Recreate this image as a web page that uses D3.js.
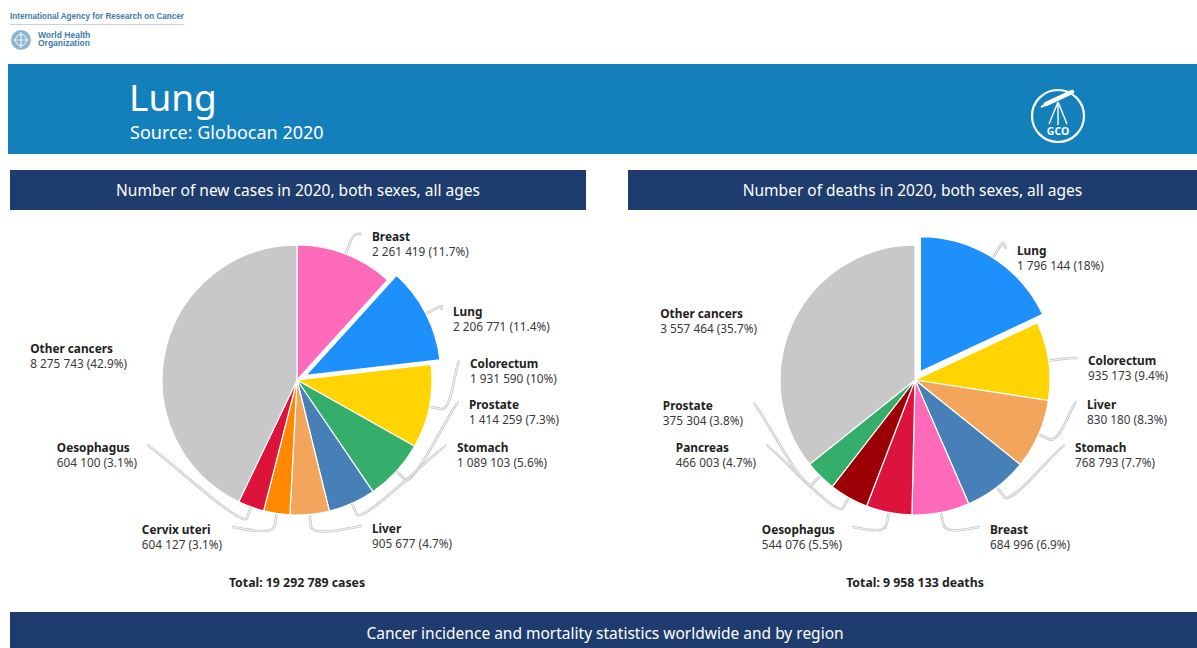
<!DOCTYPE html>
<html>
<head>
<meta charset="utf-8">
<script src="https://cdn.jsdelivr.net/npm/d3@7"></script>
<style>
html,body{margin:0;padding:0;background:#fff;}
svg{display:block;font-family:"Noto Sans","Open Sans",sans-serif;}
</style>
</head>
<body>
<svg id="chart" width="1197" height="648"></svg>
<script>
// ---------------- DATA ----------------
const incidenceCategories = ["Breast","Lung","Colorectum","Prostate","Stomach","Liver","Cervix uteri","Oesophagus","Other cancers"];
const incidenceValues = [2261419,2206771,1931590,1414259,1089103,905677,604127,604100,8275743];
const mortalityCategories = ["Lung","Colorectum","Liver","Stomach","Breast","Oesophagus","Pancreas","Prostate","Other cancers"];
const mortalityValues = [1796144,935173,830180,768793,684996,544076,466003,375304,3557464];
const highlightedCancer = "Lung";
const titleText = "Lung";
const sourceText = "Source: Globocan 2020";
const incidenceTitle = "Number of new cases in 2020, both sexes, all ages";
const mortalityTitle = "Number of deaths in 2020, both sexes, all ages";
const incidenceUnit = "cases";
const mortalityUnit = "deaths";
const footerText = "Cancer incidence and mortality statistics worldwide and by region";

// ---------------- STYLE / LAYOUT ----------------
const cancerColors = {
  "Breast":"#fd6ab9", "Lung":"#1e90fb", "Colorectum":"#ffd400", "Prostate":"#35ad6b",
  "Stomach":"#4680b6", "Liver":"#f3a55c", "Cervix uteri":"#ff8800", "Oesophagus":"#dc143c",
  "Pancreas":"#9c0006", "Other cancers":"#c8c8c8"
};
// label block offsets from pie centre: [x of text edge, y of first line centre]
const incidenceLabelLayout = {
  "Breast":[75,-144], "Lung":[156,-69], "Colorectum":[173,-17], "Prostate":[172,24],
  "Stomach":[160,67], "Liver":[75,148], "Cervix uteri":[-75,149], "Oesophagus":[-160,67],
  "Other cancers":[-170,-32]
};
const mortalityLabelLayout = {
  "Lung":[102,-130], "Colorectum":[173,-20], "Liver":[172,24], "Stomach":[160,67],
  "Breast":[75,149], "Oesophagus":[-73,149], "Pancreas":[-159,67], "Prostate":[-172,25],
  "Other cancers":[-158,-67]
};

const svg = d3.select("#chart");
const W = 1197, H = 648;
const navy = "#1e3c6d";

// ---------- top-left logos ----------
svg.append("text").attr("x",10).attr("y",19)
  .attr("font-family","'Liberation Sans Narrow','Liberation Sans',sans-serif")
  .attr("font-weight","bold").attr("font-size",8.5).attr("fill","#3f7ba6")
  .attr("textLength",174).attr("lengthAdjust","spacingAndGlyphs")
  .text("International Agency for Research on Cancer");
svg.append("line").attr("x1",10).attr("x2",184).attr("y1",24.5).attr("y2",24.5)
  .attr("stroke","#b7c7d6").attr("stroke-width",0.8);
const who = svg.append("g").attr("transform","translate(21,40)");
who.append("circle").attr("r",10).attr("fill","#8db4d2");
who.append("circle").attr("r",5.5).attr("fill","none").attr("stroke","#fff").attr("stroke-width",1);
who.append("line").attr("x1",0).attr("x2",0).attr("y1",-8).attr("y2",8).attr("stroke","#fff").attr("stroke-width",1);
who.append("line").attr("x1",-8).attr("x2",8).attr("y1",0).attr("y2",0).attr("stroke","#fff").attr("stroke-width",0.8);
["World Health","Organization"].forEach((t,i)=>{
  svg.append("text").attr("x",38).attr("y",38+i*8)
    .attr("font-family","'Liberation Sans Narrow','Liberation Sans',sans-serif")
    .attr("font-weight","bold").attr("font-size",8.5).attr("fill","#3f7ba6").text(t);
});

// ---------- header band ----------
svg.append("rect").attr("x",8).attr("y",64).attr("width",W-8).attr("height",90).attr("fill","#1380bc");
svg.append("text").attr("x",129).attr("y",111).attr("fill","#fff").attr("font-size",37).text(titleText);
svg.append("text").attr("x",130).attr("y",139).attr("fill","#fff").attr("font-size",18).text(sourceText);

// GCO logo
const gco = svg.append("g").attr("transform","translate(1058,116)");
gco.append("circle").attr("r",26).attr("fill","none").attr("stroke","#fff").attr("stroke-width",2.2);
gco.append("line").attr("x1",-12).attr("y1",-12).attr("x2",14).attr("y2",-24)
  .attr("stroke","#fff").attr("stroke-width",4.5).attr("stroke-linecap","round");
gco.append("line").attr("x1",-17).attr("y1",-9).attr("x2",-12).attr("y2",-11.5)
  .attr("stroke","#fff").attr("stroke-width",2);
[[-9,8],[0,9],[9,8]].forEach(p=>{
  gco.append("line").attr("x1",0).attr("y1",-14).attr("x2",p[0]).attr("y2",p[1])
    .attr("stroke","#fff").attr("stroke-width",1.4);
});
gco.append("text").attr("x",0).attr("y",19).attr("text-anchor","middle").attr("fill","#fff")
  .attr("font-weight","bold").attr("font-size",10.5).text("GCO");

// ---------- panel headers ----------
function panelHeader(x, w, label){
  svg.append("rect").attr("x",x).attr("y",170).attr("width",w).attr("height",40).attr("fill",navy);
  svg.append("text").attr("x",x+w/2).attr("y",196).attr("text-anchor","middle")
    .attr("fill","#fff").attr("font-size",15.5).text(label);
}
panelHeader(10, 576, incidenceTitle);
panelHeader(628, W-628, mortalityTitle);

// footer
svg.append("rect").attr("x",10).attr("y",612).attr("width",W-10).attr("height",36).attr("fill",navy);
svg.append("text").attr("x",605).attr("y",639).attr("text-anchor","middle")
  .attr("fill","#fff").attr("font-size",15.5).text(footerText);

// ---------- pies ----------
const fmtInt = v => d3.format(",")(v).replace(/,/g," ");
function fmtPct(p){ const r = Math.round(p*10)/10; return (r % 1 === 0 ? r.toFixed(0) : r.toFixed(1)) + "%"; }

function drawPie(cx, cy, categories, values, layout, unit){
  const R = 135, explode = 10, breakR = R + 12;
  const total = d3.sum(values);
  const data = categories.map((c,i)=>({name:c, value:values[i]}));
  const pie = d3.pie().sort(null).value(d=>d.value).startAngle(0).endAngle(2*Math.PI);
  const arcs = pie(data);
  const arc = d3.arc().innerRadius(0).outerRadius(R);
  const g = svg.append("g").attr("transform",`translate(${cx},${cy})`);
  const conn = g.append("g");
  const slices = g.append("g");
  const labels = g.append("g");

  arcs.forEach(a=>{
    const mid = (a.startAngle + a.endAngle)/2;
    const off = a.data.name === highlightedCancer ? explode : 0;
    const ox = Math.sin(mid)*off, oy = -Math.cos(mid)*off;
    slices.append("path").attr("d",arc(a))
      .attr("transform",`translate(${ox},${oy})`)
      .attr("fill",cancerColors[a.data.name])
      .attr("stroke","#fff").attr("stroke-width",1.2).attr("stroke-linejoin","round");

    const lay = layout[a.data.name];
    const right = lay[0] > 0;
    const lg = labels.append("g").attr("transform",`translate(${lay[0]},${lay[1]})`);
    const t1 = lg.append("text").attr("y",4.5).attr("font-size",11.8).attr("font-weight","bold")
      .attr("fill","#222").text(a.data.name);
    const t2 = lg.append("text").attr("y",19.5).attr("font-size",11.8)
      .attr("fill","#3a3a3a").text(`${fmtInt(a.data.value)} (${fmtPct(a.data.value/total*100)})`);
    if(!right){
      const w = Math.max(t1.node().getComputedTextLength(), t2.node().getComputedTextLength());
      t1.attr("x",-w); t2.attr("x",-w);
    }

    if(a.data.name !== "Other cancers"){
      const tx = ox + Math.sin(mid)*R, ty = oy - Math.cos(mid)*R;
      const bx = ox + Math.sin(mid)*breakR, by = oy - Math.cos(mid)*breakR;
      const ax = lay[0] + (right ? -10 : 10), ay = lay[1] - 2;
      const p = `M${ax},${ay} C${ax + (right?-5:5)},${ay} ${2*bx-tx},${2*by-ty} ${bx},${by} L${tx},${ty}`;
      conn.append("path").attr("d",p).attr("fill","none").attr("stroke","#c6c6c6").attr("stroke-width",2.6);
      conn.append("path").attr("d",p).attr("fill","none").attr("stroke","#fff").attr("stroke-width",0.9);
    }
  });

  svg.append("text").attr("x",cx).attr("y",587).attr("text-anchor","middle")
    .attr("font-size",12.3).attr("font-weight","bold").attr("fill","#222")
    .text(`Total: ${fmtInt(total)} ${unit}`);
}

drawPie(297, 380, incidenceCategories, incidenceValues, incidenceLabelLayout, incidenceUnit);
drawPie(915, 380, mortalityCategories, mortalityValues, mortalityLabelLayout, mortalityUnit);
</script>
</body>
</html>
